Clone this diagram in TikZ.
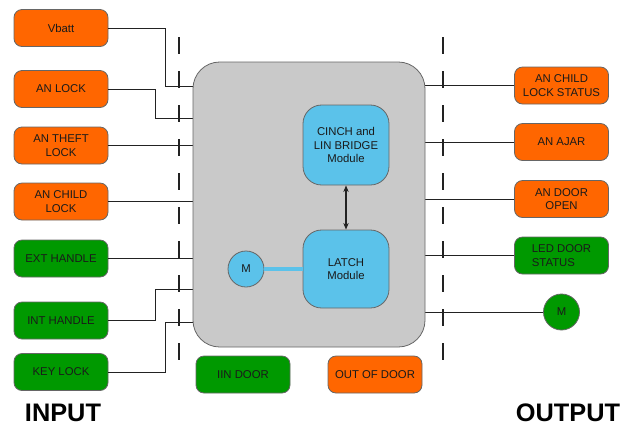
\documentclass[tikz,border=0pt]{standalone}
\usepackage{fontspec}
\setmainfont{Liberation Sans}
\usetikzlibrary{arrows.meta}
\definecolor{orng}{HTML}{FF6600}
\definecolor{grn}{HTML}{009900}
\definecolor{blu}{HTML}{5BC2EA}
\definecolor{boxg}{HTML}{C9C9C9}
\definecolor{bordc}{HTML}{666666}
\definecolor{wirec}{HTML}{222222}
\definecolor{txtc}{HTML}{1A1A1A}
\begin{document}
\begin{tikzpicture}[x=0.75pt,y=-0.75pt,
  box/.style={draw=bordc, line width=0.6pt, rounded corners=6pt, minimum width=70.5pt, minimum height=27.75pt, align=center, font=\fontsize{8.5}{10}\selectfont, inner sep=1pt, text=txtc},
  ob/.style={box, fill=orng},
  gb/.style={box, fill=grn},
  mod/.style={draw=bordc, line width=0.6pt, fill=blu, rounded corners=14pt, minimum width=64.5pt, align=center, font=\fontsize{8.5}{10}\selectfont, text=txtc},
  motor/.style={circle, draw=bordc, line width=0.6pt, minimum size=27pt, inner sep=0pt, font=\fontsize{8.5}{10}\selectfont, text=txtc},
  wire/.style={draw=wirec, line width=0.75pt},
  sep/.style={draw=wirec, line width=0.9pt, dash pattern=on 12.75pt off 12.75pt},
  big/.style={font=\fontsize{19}{20}\selectfont\bfseries, text=black, inner sep=0pt, anchor=base}
]
\useasboundingbox (0,0) rectangle (636,426);

% dashed separators
\coordinate (d1t) at (179,37);
\coordinate (d1b) at (179,360);
\coordinate (d2t) at (443,37);
\coordinate (d2b) at (443,360);
\draw[sep] (d1t) -- (d1b);
\draw[sep] (d2t) -- (d2b);

% input boxes
\node[ob] (vb) at (61,28) {Vbatt};
\node[ob] (al) at (61,89) {AN LOCK};
\node[ob] (at) at (61,145.5) {AN THEFT\\LOCK};
\node[ob] (ac) at (61,201.5) {AN CHILD\\LOCK};
\node[gb] (eh) at (61,258.5) {EXT HANDLE};
\node[gb] (ih) at (61,320.5) {INT HANDLE};
\node[gb] (kl) at (61,372) {KEY LOCK};

% output boxes
\node[ob] (o1) at (561.5,85.5) {AN CHILD\\LOCK STATUS};
\node[ob] (o2) at (561.5,142) {AN AJAR};
\node[ob] (o3) at (561.5,199) {AN DOOR\\OPEN};
\node[gb, align=left] (o4) at (561.5,255.5) {LED DOOR\\STATUS};
\node[motor, fill=grn] (m2) at (561.5,312) {M};

% bottom boxes
\node[gb] (ind) at (243,374.5) {IIN DOOR};
\node[ob] (outd) at (375,374.5) {OUT OF DOOR};

% main box (placed invisibly first for anchors)
\path (309,204.5) node[minimum width=174pt, minimum height=213.75pt, inner sep=0pt] (ecu) {};

% wires
\draw[wire] (vb.east) -| (165,86) -- (ecu.west |- 165,86);
\draw[wire] (al.east) -| (155,118) -- (ecu.west |- 155,118);
\draw[wire] (at.east) -- (ecu.west |- at.east);
\draw[wire] (ac.east) -- (ecu.west |- ac.east);
\draw[wire] (eh.east) -- (ecu.west |- eh.east);
\draw[wire] (ih.east) -| (155,289) -- (ecu.west |- 155,289);
\draw[wire] (kl.east) -| (165,322) -- (ecu.west |- 165,322);
\draw[wire] (ecu.east |- o1.west) -- (o1.west);
\draw[wire] (ecu.east |- o2.west) -- (o2.west);
\draw[wire] (ecu.east |- o3.west) -- (o3.west);
\draw[wire] (ecu.east |- o4.west) -- (o4.west);
\draw[wire] (ecu.east |- m2.west) -- (m2.west);

% main box drawn
\node[draw=bordc, line width=0.6pt, fill=boxg, rounded corners=20pt, minimum width=174pt, minimum height=213.75pt, inner sep=0pt] (ecub) at (309,204.5) {};

% inner modules
\node[mod, minimum height=60pt] (cinch) at (346,145) {CINCH and\\LIN BRIDGE\\Module};
\node[mod, minimum height=58.5pt] (latch) at (346,269) {LATCH\\Module};
\node[motor, fill=blu] (m1) at (246,269) {M};
\draw[line width=0.9pt, wirec, {Stealth[length=5pt,width=4pt]}-{Stealth[length=5pt,width=4pt]}] (cinch.south) -- (latch.north);
\draw[line width=3.4pt, bordc!60!blu] (m1.east) -- (latch.west);
\draw[line width=2.4pt, blu] (m1.east) -- (latch.west);

% labels
\node[big] (inp) at (63,421) {INPUT};
\node[big] (outp) at (568,421) {OUTPUT};
\end{tikzpicture}
\end{document}
